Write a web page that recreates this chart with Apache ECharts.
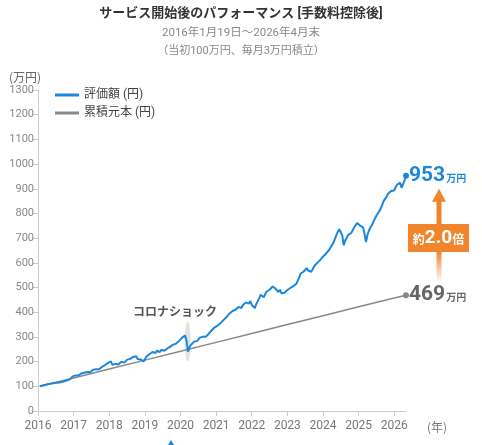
<!DOCTYPE html>
<html lang="ja">
<head>
    <meta charset="UTF-8">
    <title>サービス開始後のパフォーマンス</title>
    <script src="https://cdn.jsdelivr.net/npm/echarts@6.0.0/dist/echarts.min.js"></script>
    <style>
        body { padding: 0; margin: 0; background: #fff; }
        #perfChart { width: 482px; height: 445px; }
    </style>
</head>
<body>
    <div id="perfChart"></div>

    <script>
        // 評価額（万円）: 2016.05 〜 2026.33 をほぼ半月ごと
        const startYear = 2016.05;
        const endYear = 2026.33;
        const valuation = [
            100, 97, 103, 100, 106, 103, 109, 105, 111, 106, 113, 108, 114, 110, 116, 113, 119, 121, 123, 120, 127, 128, 139, 141,
            144, 147, 144, 150, 152, 149, 155, 152, 158, 161, 157, 163, 167, 163, 169, 172, 169, 176, 179, 184, 186, 190, 195, 199,
            201, 187, 184, 191, 194, 188, 196, 199, 201, 196, 204, 208, 204, 211, 215, 219, 217, 222, 211, 217, 209, 214, 201, 211,
            221, 227, 231, 235, 239, 243, 235, 244, 247, 239, 248, 251, 244, 250, 253, 257, 261, 265, 269, 265, 273, 278, 284, 291,
            297, 301, 306, 284, 240, 258, 268, 275, 281, 287, 283, 291, 297, 292, 301, 307, 301, 297, 313, 319, 327, 333, 339, 344,
            346, 353, 356, 363, 369, 376, 381, 389, 395, 401, 405, 397, 410, 415, 421, 427, 417, 429, 435, 439, 441, 435, 445, 429,
            425, 417, 433, 441, 457, 471, 477, 461, 466, 484, 477, 491, 499, 504, 511, 496, 501, 482, 491, 477, 469, 479, 487, 490,
            491, 498, 493, 506, 511, 515, 518, 541, 557, 561, 565, 573, 579, 569, 577, 564, 573, 586, 593, 599, 605, 611, 619, 625,
            629, 637, 643, 651, 661, 669, 681, 696, 711, 725, 736, 741, 711, 671, 691, 701, 713, 705, 721, 731, 743, 751, 761, 753,
            751, 759, 744, 719, 684, 713, 731, 743, 753, 766, 779, 791, 799, 809, 821, 836, 851, 859, 869, 881, 875, 891, 899, 893,
            906, 916, 921, 925, 904, 897, 933, 953
        ];

        // 累積元本（万円）
        const principalDates = [2016.05, 2017, 2018, 2019, 2020, 2021, 2022, 2023, 2024, 2025, 2026, 2026.33];
        const principal = [100, 134, 170, 206, 242, 278, 314, 350, 386, 422, 458, 469];

        const yearTicks = [2016, 2017, 2018, 2019, 2020, 2021, 2022, 2023, 2024, 2025, 2026];

        const blue = '#1a87dc';
        const gray = '#888888';
        const orange = '#f0852c';
        const jp = 'Roboto, "Noto Sans CJK JP", sans-serif';

        const step = (endYear - startYear) / (valuation.length - 1);
        const valuationData = valuation.map((v, i) => [startYear + i * step, v]);
        const principalData = principalDates.map((d, i) => [d, principal[i]]);

        const chart = echarts.init(document.getElementById('perfChart'));

        function endSymbol(len) {
            return (val, params) => params.dataIndex === len - 1 ? 6 : 0;
        }

        chart.setOption({
            animation: false,
            textStyle: { fontFamily: jp },
            title: [
                { text: 'サービス開始後のパフォーマンス [手数料控除後]', left: 'center', top: 7, padding: 0,
                  textStyle: { fontSize: 13, fontWeight: 'bold', color: '#333', fontFamily: jp } },
                { text: '2016年1月19日～2026年4月末', left: 'center', top: 27, padding: 0,
                  textStyle: { fontSize: 11.5, fontWeight: 'normal', color: '#888', fontFamily: jp } },
                { text: '（当初100万円、毎月3万円積立）', left: 'center', top: 46, padding: 0,
                  textStyle: { fontSize: 11, fontWeight: 'normal', color: '#888', fontFamily: jp } }
            ],
            legend: {
                orient: 'vertical', left: 50, top: 84, itemWidth: 24, itemHeight: 3, itemGap: 6,
                icon: 'rect',
                textStyle: { fontSize: 12, color: '#444', fontFamily: jp },
                data: ['評価額 (円)', '累積元本 (円)']
            },
            grid: { left: 38, right: 76, top: 90, bottom: 34 },
            xAxis: {
                type: 'value', min: 2016, max: endYear,
                axisLine: { lineStyle: { color: '#ccc' } },
                axisTick: { customValues: yearTicks, length: 5, lineStyle: { color: '#ccc' } },
                axisLabel: { customValues: yearTicks, fontSize: 12, color: '#777', margin: 9,
                             formatter: v => String(Math.round(v)) },
                splitLine: { show: false }
            },
            yAxis: {
                type: 'value', min: 0, max: 1300, interval: 100,
                axisLine: { show: true, lineStyle: { color: '#ccc' } },
                axisTick: { show: true, length: 5, lineStyle: { color: '#ccc' } },
                axisLabel: { fontSize: 11, color: '#888', margin: 4, formatter: v => String(v) },
                splitLine: { show: false }
            },
            series: [
                {
                    name: '累積元本 (円)', type: 'line', data: principalData,
                    showSymbol: true, showAllSymbol: true, symbol: 'circle',
                    symbolSize: endSymbol(principalData.length),
                    itemStyle: { color: gray },
                    lineStyle: { color: gray, width: 1.5 },
                    z: 2,
                    endLabel: {
                        show: true, distance: 3,
                        formatter: p => '{a|' + p.value[1] + '}{b|万円}',
                        rich: {
                            a: { fontSize: 21, fontWeight: 'bold', color: '#666', fontFamily: 'Roboto, sans-serif' },
                            b: { fontSize: 10, fontWeight: 'bold', color: '#666', padding: [7, 0, 0, 1] }
                        }
                    }
                },
                {
                    name: '評価額 (円)', type: 'line', data: valuationData,
                    showSymbol: true, showAllSymbol: true, symbol: 'circle',
                    symbolSize: endSymbol(valuationData.length),
                    itemStyle: { color: blue },
                    lineStyle: { color: blue, width: 2 },
                    z: 3,
                    endLabel: {
                        show: true, distance: 3,
                        formatter: p => '{a|' + p.value[1] + '}{b|万円}',
                        rich: {
                            a: { fontSize: 21, fontWeight: 'bold', color: blue, fontFamily: 'Roboto, sans-serif' },
                            b: { fontSize: 10, fontWeight: 'bold', color: blue, padding: [7, 0, 0, 1] }
                        }
                    }
                }
            ]
        });

        // 注釈（コロナショック、倍率の矢印）をデータ座標から配置
        const lastV = valuationData[valuationData.length - 1];
        const lastP = principalData[principalData.length - 1];
        const pV = chart.convertToPixel({ gridIndex: 0 }, lastV);
        const pP = chart.convertToPixel({ gridIndex: 0 }, lastP);
        const crashTop = chart.convertToPixel({ gridIndex: 0 }, [2020.2, 360]);
        const crashBot = chart.convertToPixel({ gridIndex: 0 }, [2020.2, 200]);
        const ax = pV[0] + 33;
        const tipY = pV[1] + 13;
        const fadeY = pP[1] - 13;
        const boxTop = 224, boxH = 28;

        chart.setOption({
            graphic: [
                { type: 'ellipse', z: 1,
                  shape: { cx: crashTop[0], cy: (crashTop[1] + crashBot[1]) / 2, rx: 3, ry: (crashBot[1] - crashTop[1]) / 2 },
                  style: { fill: 'rgba(190,190,190,0.45)' } },
                { type: 'text', z: 10, x: 175, y: 311,
                  style: { text: 'コロナショック', fill: '#555', font: 'bold 12px "Noto Sans CJK JP"', align: 'center', verticalAlign: 'middle' } },
                { type: 'text', z: 10, x: 9, y: 77,
                  style: { text: '(万円)', fill: '#666', font: '12px "Noto Sans CJK JP"', verticalAlign: 'middle' } },
                { type: 'text', z: 10, x: 437, y: 427,
                  style: { text: '(年)', fill: '#777', font: '12px "Noto Sans CJK JP"', align: 'center', verticalAlign: 'middle' } },
                { type: 'polygon', z: 10,
                  shape: { points: [[ax - 7, tipY + 13], [ax + 7, tipY + 13], [ax, tipY]] },
                  style: { fill: orange } },
                { type: 'rect', z: 10,
                  shape: { x: ax - 2.5, y: tipY + 12, width: 5, height: boxTop - tipY - 12 },
                  style: { fill: orange } },
                { type: 'rect', z: 10,
                  shape: { x: ax - 2.5, y: boxTop + boxH, width: 5, height: fadeY - boxTop - boxH },
                  style: { fill: new echarts.graphic.LinearGradient(0, 0, 0, 1, [
                      { offset: 0, color: orange }, { offset: 1, color: 'rgba(240,133,44,0)' }]) } },
                { type: 'rect', z: 10,
                  shape: { x: ax - 31, y: boxTop, width: 61, height: boxH },
                  style: { fill: orange } },
                { type: 'text', z: 11, x: ax - 0.5, y: boxTop + boxH / 2,
                  style: {
                      text: '{s|約}{n|2.0}{s|倍}', align: 'center', verticalAlign: 'middle',
                      rich: {
                          s: { fontSize: 12, fontWeight: 'bold', fill: '#fff', fontFamily: '"Noto Sans CJK JP"', padding: [3, 0, 0, 0] },
                          n: { fontSize: 19, fontWeight: 'bold', fill: '#fff', fontFamily: 'Roboto, sans-serif' }
                      }
                  } },
                { type: 'polygon', z: 10,
                  shape: { points: [[168, 445], [174, 445], [171, 440]] },
                  style: { fill: blue } }
            ]
        });
    </script>
</body>
</html>
